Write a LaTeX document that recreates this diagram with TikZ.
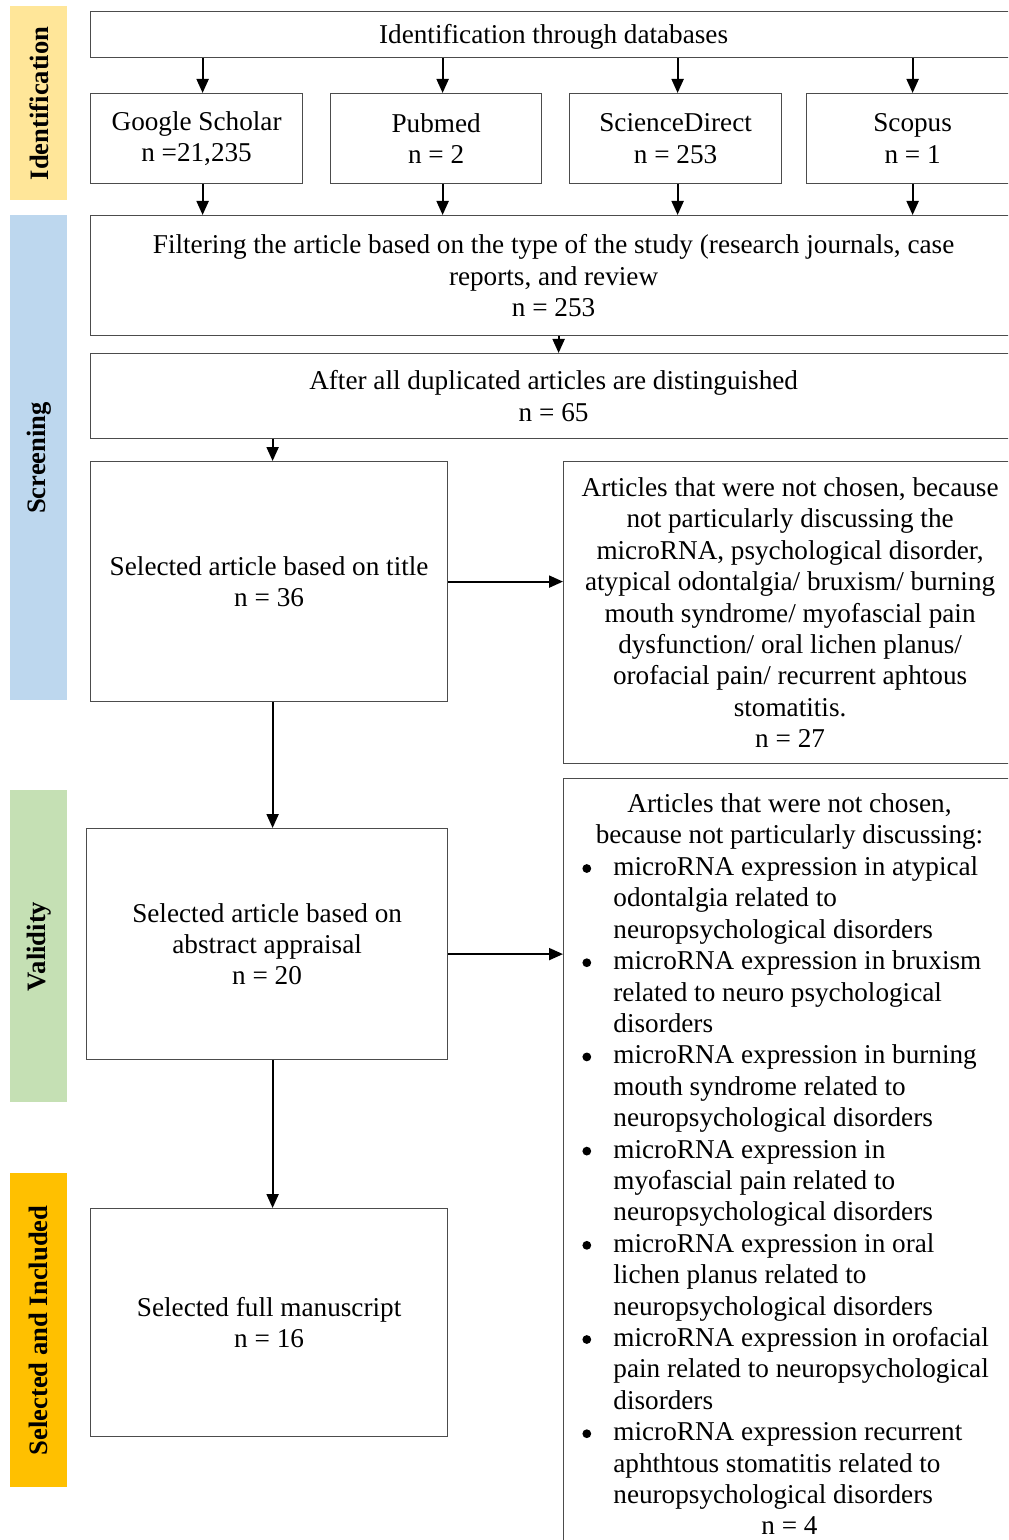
\documentclass[tikz,border=0pt]{standalone}
\usepackage{fontspec}
\setmainfont{Liberation Serif}
\usetikzlibrary{arrows.meta}
\definecolor{identcol}{HTML}{FFE699}
\definecolor{screencol}{HTML}{BDD7EE}
\definecolor{validcol}{HTML}{C5E0B4}
\definecolor{inclcol}{HTML}{FFC000}
\newcommand{\itembul}{\makebox[15.5pt][l]{\raisebox{1.3pt}{\tikz\fill (0,0) circle (2.2pt);}}}
\newcommand{\itemind}{\hspace*{15.5pt}}

\begin{document}
\begin{tikzpicture}[x=0.5pt,y=-0.5pt]
    % Define styles
    \tikzstyle{box} = [rectangle, draw=black!70, line width=0.6pt, fill=white, inner sep=0pt, anchor=north west, align=center, font=\fontsize{13.6pt}{15.7pt}\selectfont, execute at begin node={\rule{0pt}{12.3pt}}]
    \tikzstyle{phase} = [rectangle, inner sep=0pt, anchor=north west, minimum width=28.5pt, font=\fontsize{13.3pt}{16pt}\selectfont\bfseries]
    \tikzstyle{txt} = [inner sep=0pt, font=\fontsize{13.6pt}{15.7pt}\selectfont]
    \tikzstyle{arrow} = [line width=1pt, -{Triangle[length=7pt,width=6pt]}]

    \clip (0,0) rectangle (1008,1540);

    % Phases
    \node[phase, fill=identcol, minimum height=97pt] (identphase) at (10,6) {\rotatebox{90}{Identification}};
    \node[phase, fill=screencol, minimum height=242.5pt] (screenphase) at (10,215) {\rotatebox{90}{Screening}};
    \node[phase, fill=validcol, minimum height=156pt] (validphase) at (10,790) {\rotatebox{90}{Validity}};
    \node[phase, fill=inclcol, minimum height=157pt] (inclphase) at (10,1173) {\rotatebox{90}{Selected and Included}};

    % Components
    \node[box, minimum width=463pt, minimum height=23pt] (ident) at (90,11) {Identification through databases};
    \node[box, minimum width=106pt, minimum height=45pt] (gs) at (90,93) {Google Scholar\\n =21,235};
    \node[box, minimum width=105.5pt, minimum height=45pt] (pubmed) at (330,93) {Pubmed\\n = 2};
    \node[box, minimum width=106pt, minimum height=45pt] (sd) at (569,93) {ScienceDirect\\n = 253};
    \node[box, minimum width=106pt, minimum height=45pt] (scopus) at (806,93) {Scopus\\n = 1};
    \node[box, minimum width=463pt, minimum height=60pt] (filter) at (90,215) {Filtering the article based on the type of the study (research journals, case\\reports, and review\\n = 253};
    \node[box, minimum width=463pt, minimum height=42.5pt] (dup) at (90,353) {After all duplicated articles are distinguished\\n = 65};
    \node[box, minimum width=178.5pt, minimum height=120pt] (title) at (90,461) {Selected article based on title\\n = 36};
    \node[box, minimum width=226.5pt, minimum height=151pt] (excl1) at (563,461) {Articles that were not chosen, because\\not particularly discussing the\\microRNA, psychological disorder,\\atypical odontalgia/ bruxism/ burning\\mouth syndrome/ myofascial pain\\dysfunction/ oral lichen planus/\\orofacial pain/ recurrent aphtous\\stomatitis.\\n = 27};
    \node[box, minimum width=180.5pt, minimum height=115.5pt] (abstract) at (86,828) {Selected article based on\\abstract appraisal\\n = 20};
    \node[box, minimum width=226.5pt, minimum height=391pt] (excl2) at (563,778) {};
    \node[box, minimum width=178.5pt, minimum height=114pt] (full) at (90,1208) {Selected full manuscript\\n = 16};

    % Excluded after abstract appraisal
    \node[txt, align=center] (excl2head) at (789.5,821.5) {Articles that were not chosen,\\because not particularly discussing:};
    \node[txt, align=left, anchor=west] (excl2list) at (582,1183) {\itembul microRNA expression in atypical\\\itemind odontalgia related to\\\itemind neuropsychological disorders\\
        \itembul microRNA expression in bruxism\\\itemind related to neuro psychological\\\itemind disorders\\
        \itembul microRNA expression in burning\\\itemind mouth syndrome related to\\\itemind neuropsychological disorders\\
        \itembul microRNA expression in\\\itemind myofascial pain related to\\\itemind neuropsychological disorders\\
        \itembul microRNA expression in oral\\\itemind lichen planus related to\\\itemind neuropsychological disorders\\
        \itembul microRNA expression in orofacial\\\itemind pain related to neuropsychological\\\itemind disorders\\
        \itembul microRNA expression recurrent\\\itemind aphthtous stomatitis related to\\\itemind neuropsychological disorders};
    \node[txt] (excl2n) at (789.5,1526) {n = 4};

    % Connections
    \draw[arrow] ([xshift=3pt]gs.north |- ident.south) -- ([xshift=3pt]gs.north);
    \draw[arrow] ([xshift=3.25pt]pubmed.north |- ident.south) -- ([xshift=3.25pt]pubmed.north);
    \draw[arrow] ([xshift=1pt]sd.north |- ident.south) -- ([xshift=1pt]sd.north);
    \draw[arrow] (scopus.north |- ident.south) -- (scopus.north);
    \draw[arrow] ([xshift=3pt]gs.south) -- ([xshift=3pt]gs.south |- filter.north);
    \draw[arrow] ([xshift=3.25pt]pubmed.south) -- ([xshift=3.25pt]pubmed.south |- filter.north);
    \draw[arrow] ([xshift=1pt]sd.south) -- ([xshift=1pt]sd.south |- filter.north);
    \draw[arrow] (scopus.south) -- (scopus.south |- filter.north);
    \draw[arrow] ([xshift=2.5pt]filter.south) -- ([xshift=2.5pt]filter.south |- dup.north);
    \draw[arrow] ([xshift=1.75pt]title.north |- dup.south) -- ([xshift=1.75pt]title.north);
    \draw[arrow] (title.east) -- (title.east -| excl1.west);
    \draw[arrow] ([xshift=1.75pt]title.south) -- ([xshift=1.75pt]title.south |- abstract.north);
    \draw[arrow] ([yshift=-5pt]abstract.east) -- ([yshift=-5pt]abstract.east -| excl2.west);
    \draw[arrow] ([xshift=1.75pt]full.north |- abstract.south) -- ([xshift=1.75pt]full.north);
\end{tikzpicture}
\end{document}
